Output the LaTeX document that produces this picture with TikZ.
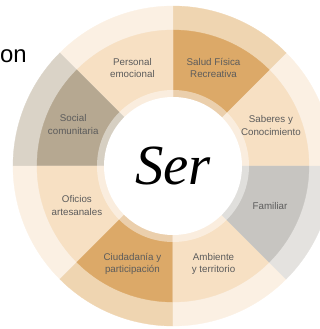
\documentclass[tikz,border=0pt]{standalone}
\usepackage{fontspec}
\setmainfont{Liberation Sans}
\newfontfamily\serfont{Liberation Serif}

\definecolor{segPeach}{HTML}{F7E0C3}
\definecolor{outPeach}{HTML}{FBF0E3}
\definecolor{segTan}{HTML}{DCA968}
\definecolor{outTan}{HTML}{EFD5B1}
\definecolor{segTaupe}{HTML}{B6A891}
\definecolor{outTaupe}{HTML}{DAD3C7}
\definecolor{segGray}{HTML}{C7C5C1}
\definecolor{outGray}{HTML}{E4E2DF}
\definecolor{labelGray}{HTML}{5C5C5C}

\begin{document}
\begin{tikzpicture}[x=1bp, y=1bp,
    sector/.style = {line width=0.3bp},
    label/.style  = {align=center, inner sep=0, text=labelGray, font=\fontsize{9.8}{12.8}\selectfont}]
    \useasboundingbox (-173,-163) rectangle (147,166);
    \clip (-173,-163) rectangle (147,166);

    % outer band and inner sector of each part
    \foreach \a/\seg/\out in {0/segPeach/outPeach, 45/segTan/outTan, 90/segPeach/outPeach, 135/segTaupe/outTaupe,
                              180/segPeach/outPeach, 225/segTan/outTan, 270/segPeach/outPeach, 315/segGray/outGray} {
      \filldraw[sector, fill=\out, draw=\out] (0,0) -- (\a:160) arc[start angle=\a, delta angle=45, radius=160] -- cycle;
      \filldraw[sector, fill=\seg, draw=\seg] (0,0) -- (\a:136) arc[start angle=\a, delta angle=45, radius=136] -- cycle;
    }

    \fill[white, opacity=0.45] (0,0) circle[radius=76];
    \fill[white] (0,0) circle[radius=69];

    \node[font=\serfont\itshape\fontsize{57}{57}\selectfont] (ser) at (0,0) {Ser};

    \node[label] (saberes)    at (22.5:106)  {Saberes y\\Conocimiento};
    \node[label] (salud)      at (67.5:106)  {Salud Física\\Recreativa};
    \node[label] (personal)   at (112.5:106) {Personal\\emocional};
    \node[label] (social)     at (157.5:108) {Social\\comunitaria};
    \node[label] (oficios)    at (202.5:104) {Oficios\\artesanales};
    \node[label] (ciudadania) at (247.5:106) {Ciudadanía y\\participación};
    \node[label] (ambiente)   at (292.5:106) {Ambiente\\y territorio};
    \node[label] (familiar)   at (337.5:105) {Familiar};

    \node[anchor=base west, inner sep=0, font=\fontsize{24}{24}\selectfont] (on) at (-173,104) {on};
\end{tikzpicture}
\end{document}
